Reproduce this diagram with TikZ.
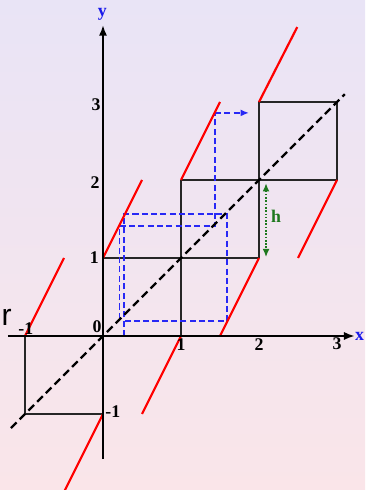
\documentclass[tikz,border=0pt]{standalone}
\usepackage{fontspec}
\setmainfont{Liberation Serif}
\newfontfamily\sansr{Liberation Sans}
\usetikzlibrary{arrows.meta}
\definecolor{bgtop}{RGB}{233,228,246}
\definecolor{bgbot}{RGB}{250,229,233}
\definecolor{cobweb}{RGB}{40,40,245}
\definecolor{hgreen}{RGB}{30,120,30}
\definecolor{axlab}{RGB}{25,25,235}
\begin{document}
\begin{tikzpicture}[x=1cm,y=1cm,
  axis/.style={line width=0.8pt,-{Latex[length=4pt,width=3pt]}},
  redseg/.style={red,line width=0.8pt},
  sq/.style={line width=0.55pt,black!85},
  diag/.style={line width=0.8pt,dash pattern=on 2.9pt off 1.6pt},
  cob/.style={cobweb,line width=0.5pt,dash pattern=on 2.2pt off 1.2pt},
  lab/.style={font=\fontsize{6.5}{7}\selectfont\bfseries,inner sep=0pt}]
\shade[top color=bgtop,bottom color=bgbot] (-1.3205,-1.9744) rectangle (3.359,4.3077);
\useasboundingbox (-1.3205,-1.9744) rectangle (3.359,4.3077);
% staircase squares
\draw[sq] (0,1) -- (2,1);
\draw[sq] (1,0) -- (1,2);
\draw[sq] (1,2) -- (3,2) -- (3,3) -- (2,3) -- (2,1);
\draw[sq] (-1,0) -- (-1,-1) -- (0,-1);
% cobwebs
\draw[cob] (0.21,0.22) -- (0.21,1.41) -- (1.435,1.41) -- (1.435,2.86);
\draw[cob,-{Latex[length=3pt,width=2.5pt]}] (1.435,2.86) -- (1.87,2.86);
\draw[cob] (0.27,0) -- (0.27,1.565) -- (1.59,1.565) -- (1.59,0.19) -- (0.27,0.19);
% diagonal
\draw[diag] (-1.18,-1.18) -- (3.1,3.1);
% red map branches
\draw[redseg] (-1,0) -- (-0.5,1);
\draw[redseg] (0,1) -- (0.5,2);
\draw[redseg] (1,2) -- (1.5,3);
\draw[redseg] (2,3) -- (2.49,3.96);
\draw[redseg] (0,-1) -- (-0.5,-2);
\draw[redseg] (1,0) -- (0.5,-1);
\draw[redseg] (2,1) -- (1.5,0);
\draw[redseg] (3,2) -- (2.5,1);
% h marker
\draw[hgreen,line width=0.6pt,dash pattern=on 0.6pt off 0.6pt,{Latex[length=3pt,width=2.5pt]}-{Latex[length=3pt,width=2.5pt]}] (2.09,1.96) -- (2.09,1.01);
\node[lab,text=hgreen] (h) at (2.22,1.53) {h};
% axes
\draw[axis] (-1.22,0) -- (3.23,0);
\draw[axis] (0,-1.58) -- (0,3.99);
\node[lab,text=axlab] (xl) at (3.29,-0.01) {x};
\node[lab,text=axlab] (yl) at (-0.01,4.13) {y};
% tick labels
\node[lab] (t0) at (-0.075,0.125) {0};
\node[lab] (tm1x) at (-0.99,0.10) {-1};
\node[lab] (t1x) at (1.0,-0.115) {1};
\node[lab] (t2x) at (2.0,-0.115) {2};
\node[lab] (t3x) at (3.0,-0.105) {3};
\node[lab] (t1y) at (-0.11,1.0) {1};
\node[lab] (t2y) at (-0.10,1.97) {2};
\node[lab] (t3y) at (-0.09,2.96) {3};
\node[lab] (tm1y) at (0.125,-0.97) {-1};
% stray letter
\node[inner sep=0pt,font=\sansr\fontsize{11}{12}\selectfont] (r) at (-1.235,0.24) {r};
\end{tikzpicture}
\end{document}
